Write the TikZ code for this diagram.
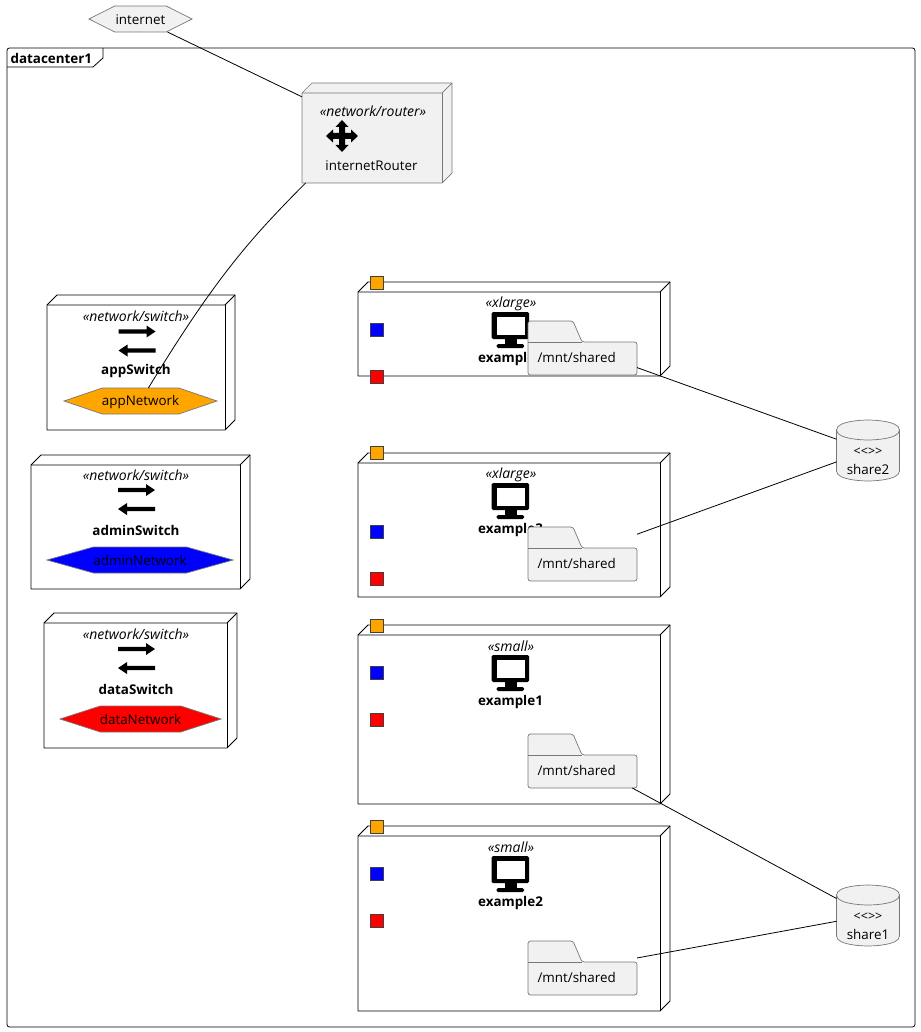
\documentclass[tikz,border=0pt]{standalone}
\usepackage{fontspec}
\setmainfont{Open Sans}
\usetikzlibrary{calc}

\begin{document}
\begin{tikzpicture}[x=1pt,y=-1pt]
\useasboundingbox (0,0) rectangle (920,1032);

\definecolor{nodefill}{HTML}{F1F1F1}
\definecolor{nodeline}{HTML}{777777}
\definecolor{appcolor}{HTML}{FFA500}

\tikzstyle{every node}=[font=\fontsize{13.4}{16}\selectfont]
\tikzstyle{stereo}=[font=\fontsize{14}{16}\selectfont\itshape]
\tikzstyle{nodename}=[font=\fontsize{13.4}{16}\selectfont\bfseries]
\tikzstyle{link}=[draw=black,line width=0.8pt]

% the box with a depth of 10, the node is the whole outline
\tikzstyle{box3d}[white]=[rectangle,inner sep=0pt,outer sep=0pt,anchor=north west,
  append after command={\pgfextra{
    \draw[fill=#1,draw=\boxline,line width=\boxwidth,line join=round]
      ([yshift=-10pt]\tikzlastnode.north west) -- ([xshift=10pt]\tikzlastnode.north west)
      -- (\tikzlastnode.north east) -- ([yshift=10pt]\tikzlastnode.south east)
      -- ([xshift=-10pt]\tikzlastnode.south east) -- (\tikzlastnode.south west) -- cycle;
    \draw[draw=\boxline,line width=\boxwidth]
      ([yshift=-10pt]\tikzlastnode.north west) -- ([xshift=-10pt,yshift=-10pt]\tikzlastnode.north east)
      -- (\tikzlastnode.north east);
    \draw[draw=\boxline,line width=\boxwidth]
      ([xshift=-10pt,yshift=-10pt]\tikzlastnode.north east) -- ([xshift=-10pt]\tikzlastnode.south east);
  }}]

% hexagon, the points are a quarter of the width
\tikzstyle{hexnode}[nodefill]=[rectangle,inner sep=0pt,outer sep=0pt,anchor=north west,minimum height=26pt,
  append after command={\pgfextra{
    \draw[fill=#1,draw=nodeline,line width=0.7pt]
      (\tikzlastnode.west) -- ($(\tikzlastnode.north west)!0.25!(\tikzlastnode.north east)$)
      -- ($(\tikzlastnode.north west)!0.75!(\tikzlastnode.north east)$) -- (\tikzlastnode.east)
      -- ($(\tikzlastnode.south west)!0.75!(\tikzlastnode.south east)$)
      -- ($(\tikzlastnode.south west)!0.25!(\tikzlastnode.south east)$) -- cycle;
  }}]

% mount folder with the tab on top
\tikzstyle{folder}=[rectangle,inner sep=0pt,outer sep=0pt,anchor=north west,minimum width=109pt,minimum height=54pt,
  append after command={\pgfextra{
    \draw[fill=nodefill,draw=nodeline,line width=0.7pt,rounded corners=2.5pt]
      (\tikzlastnode.south west) -- (\tikzlastnode.north west) -- ([xshift=45pt]\tikzlastnode.north west)
      -- ([xshift=54pt,yshift=33pt]\tikzlastnode.south west) -- ([yshift=33pt]\tikzlastnode.south east)
      -- (\tikzlastnode.south east) -- cycle;
    \draw[draw=nodeline,line width=0.7pt]
      ([yshift=33pt]\tikzlastnode.south west) -- ([xshift=54pt,yshift=33pt]\tikzlastnode.south west);
  }}]

% storage drum
\tikzstyle{drum}=[rectangle,inner sep=0pt,outer sep=0pt,anchor=north west,minimum width=63pt,minimum height=61pt,
  append after command={\pgfextra{
    \draw[fill=nodefill,draw=nodeline,line width=0.7pt]
      ([yshift=-10pt]\tikzlastnode.north west) .. controls (\tikzlastnode.north west) and (\tikzlastnode.north) .. (\tikzlastnode.north)
      .. controls (\tikzlastnode.north) and (\tikzlastnode.north east) .. ([yshift=-10pt]\tikzlastnode.north east)
      -- ([yshift=10pt]\tikzlastnode.south east)
      .. controls (\tikzlastnode.south east) and (\tikzlastnode.south) .. (\tikzlastnode.south)
      .. controls (\tikzlastnode.south) and (\tikzlastnode.south west) .. ([yshift=10pt]\tikzlastnode.south west) -- cycle;
    \draw[draw=nodeline,line width=0.7pt]
      ([yshift=-10pt]\tikzlastnode.north west) .. controls ([yshift=-20pt]\tikzlastnode.north west) and ([yshift=-20pt]\tikzlastnode.north) .. ([yshift=-20pt]\tikzlastnode.north)
      .. controls ([yshift=-20pt]\tikzlastnode.north) and ([yshift=-20pt]\tikzlastnode.north east) .. ([yshift=-10pt]\tikzlastnode.north east);
  }}]

\tikzstyle{port}=[rectangle,inner sep=0pt,minimum size=13pt,draw=black!75,line width=0.8pt]

% icons
\tikzset{
  moveicon/.pic={\fill[black] (0,-16) -- (6.5,-9) -- (3,-9) -- (3,-3) -- (9,-3) -- (9,-6.5) -- (16,0) -- (9,6.5) -- (9,3) -- (3,3) -- (3,9)
    -- (6.5,9) -- (0,16) -- (-6.5,9) -- (-3,9) -- (-3,3) -- (-9,3) -- (-9,6.5) -- (-16,0) -- (-9,-6.5) -- (-9,-3) -- (-3,-3) -- (-3,-9) -- (-6.5,-9) -- cycle;},
  swapicon/.pic={
    \fill[black] (-18,-11.7) -- (10,-11.7) -- (10,-15.5) -- (19,-9.5) -- (10,-3.5) -- (10,-7.3) -- (-18,-7.3) -- cycle;
    \fill[black] (19,7.3) -- (-9,7.3) -- (-9,3.5) -- (-18,9.5) -- (-9,15.5) -- (-9,11.7) -- (19,11.7) -- cycle;},
  screenicon/.pic={
    \fill[black,rounded corners=1.5pt] (-19,0) rectangle (18.5,27);
    \fill[white] (-14,4.5) rectangle (14,23);
    \fill[black] (-6,26) rectangle (6,33);
    \fill[black,rounded corners=1.5pt] (-14,36) -- (-14,32) -- (13.5,32) -- (13.5,36) -- cycle;}
}

% frame
\node (datacenter1) [rectangle,inner sep=0pt,outer sep=0pt,anchor=north west,minimum width=908pt,minimum height=979pt,draw=black,line width=0.8pt,rounded corners=2.5pt] at (7,48) {};
\coordinate (titleEnd) at (103,48);
\draw[line width=0.8pt] (titleEnd) -- (103,58) -- (93,67) -- (7,67);
\node (datacenterTitle) [nodename,anchor=west] at (10,58) {\hspace{-3pt}datacenter1};

% network nodes
\node (internet) [hexnode,minimum width=103pt] at (89,6) {};
\node (internetText) at ([yshift=-0.5pt]internet.center) {internet};

\def\boxline{nodeline}\def\boxwidth{0.7pt}
\node (internetRouter) [box3d=nodefill,minimum width=150pt,minimum height=100pt] at (302,83) {};
\node (routerStereo) [stereo] at (373,111) {«network/router»};
\pic at (342,136) {moveicon};
\node (routerName) at (371.5,165.5) {internetRouter};

\def\boxline{black}\def\boxwidth{0.8pt}
\node (appSwitch) [box3d,minimum width=188pt,minimum height=135pt] at (47,295) {};
\node (appStereo) [stereo] at (136,316) {«network/switch»};
\pic at (136.5,341) {swapicon};
\node (appName) [nodename] at (136,371) {appSwitch};
\node (appNetwork) [hexnode=appcolor,minimum width=153pt] at (64,388) {};
\node (appNetworkText) at ([yshift=-1pt]appNetwork.center) {appNetwork};

\node (adminSwitch) [box3d,minimum width=219pt,minimum height=134pt] at (31,455) {};
\node (adminStereo) [stereo] at (136,475) {«network/switch»};
\pic at (136,499.5) {swapicon};
\node (adminName) [nodename] at (136,530) {adminSwitch};
\node (adminNetwork) [hexnode=blue,minimum width=186pt] at (47,547) {};
\node (adminNetworkText) at ([yshift=-0.5pt]adminNetwork.center) {adminNetwork};

\node (dataSwitch) [box3d,minimum width=193pt,minimum height=135pt] at (44,613) {};
\node (dataStereo) [stereo] at (136,634) {«network/switch»};
\pic at (136,658.5) {swapicon};
\node (dataName) [nodename] at (136,689) {dataSwitch};
\node (dataNetwork) [hexnode=red,minimum width=161pt] at (60,706) {};
\node (dataNetworkText) at ([yshift=-0.5pt]dataNetwork.center) {dataNetwork};

% machines
\node (example4) [box3d,minimum width=312pt,minimum height=94pt] at (358,282) {};
\node (example4Stereo) [stereo] at (511,304) {«xlarge»};
\pic at (510.5,312) {screenicon};
\node (example4Name) [nodename] at (510.5,359) {example4};
\node (example4App) [port,fill=appcolor] at (376.5,282.5) {};
\node (example4Admin) [port,fill=blue] at (376.5,329.5) {};
\node (example4Data) [port,fill=red] at (376.5,376.5) {};
\node (mount4) [folder] at (528,321) {};
\node (mount4Text) [anchor=west] at ([xshift=6pt,yshift=18pt]mount4.south west) {/mnt/shared};

\node (example3) [box3d,minimum width=312pt,minimum height=144pt] at (358,453) {};
\node (example3Stereo) [stereo] at (511,475) {«xlarge»};
\pic at (510.5,483) {screenicon};
\node (example3Name) [nodename] at (510.5,530) {example3};
\node (example3App) [port,fill=appcolor] at (376.5,452.5) {};
\node (example3Admin) [port,fill=blue] at (376.5,531.5) {};
\node (example3Data) [port,fill=red] at (376.5,578.5) {};
\node (mount3) [folder] at (528,527) {};
\node (mount3Text) [anchor=west] at ([xshift=6pt,yshift=18pt]mount3.south west) {/mnt/shared};

\node (example1) [box3d,minimum width=312pt,minimum height=179pt] at (358,625) {};
\node (example1Stereo) [stereo] at (511,646.5) {«small»};
\pic at (510.5,655) {screenicon};
\node (example1Name) [nodename] at (510.5,702) {example1};
\node (example1App) [port,fill=appcolor] at (376.5,625.5) {};
\node (example1Admin) [port,fill=blue] at (376.5,672.5) {};
\node (example1Data) [port,fill=red] at (376.5,719.5) {};
\node (mount1) [folder] at (528,734) {};
\node (mount1Text) [anchor=west] at ([xshift=6pt,yshift=18pt]mount1.south west) {/mnt/shared};

\node (example2) [box3d,minimum width=312pt,minimum height=185pt] at (358,826) {};
\node (example2Stereo) [stereo] at (511,847.5) {«small»};
\pic at (510.5,856) {screenicon};
\node (example2Name) [nodename] at (510.5,903) {example2};
\node (example2App) [port,fill=appcolor] at (376.5,826.5) {};
\node (example2Admin) [port,fill=blue] at (376.5,873.5) {};
\node (example2Data) [port,fill=red] at (376.5,920.5) {};
\node (mount2) [folder] at (528,941) {};
\node (mount2Text) [anchor=west] at ([xshift=6pt,yshift=18pt]mount2.south west) {/mnt/shared};

% shares
\node (share2) [drum] at (836.5,420) {};
\node (share2Stereo) [font=\fontsize{12.5}{14}\selectfont] at (868,452) {<{}<{}>{}>};
\node (share2Name) at (868,469) {share2};
\node (share1) [drum] at (836.5,885) {};
\node (share1Stereo) [font=\fontsize{12.5}{14}\selectfont] at (868,917) {<{}<{}>{}>};
\node (share1Name) at (868,934) {share1};

% define the links between the nodes
\draw[link] (internet) -- (internetRouter);
\draw[link] (internetRouter.215) .. controls (253,236) and (217,275) .. (appNetwork);
\draw[link] (mount4) -- (share2);
\draw[link] (mount3) -- (share2);
\draw[link] (mount1) -- (share1);
\draw[link] (mount2) -- (share1);

\end{tikzpicture}
\end{document}
